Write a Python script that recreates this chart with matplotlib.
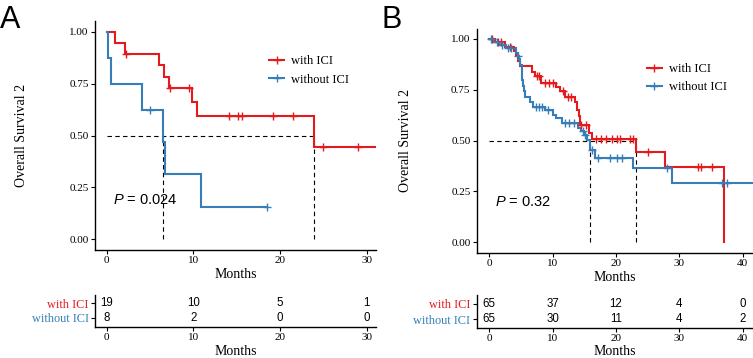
import numpy as np
import matplotlib
matplotlib.use('Agg')
import matplotlib.pyplot as plt
from matplotlib.lines import Line2D

plt.rcParams['font.family'] = 'Liberation Serif'
plt.rcParams['mathtext.fontset'] = 'custom'
plt.rcParams['mathtext.it'] = 'Liberation Sans:italic'
plt.rcParams['mathtext.rm'] = 'Liberation Sans'

RED = '#E41A1C'
BLUE = '#377EB8'
groups = ['with ICI', 'without ICI']

# ---------------- Panel A: individual times (months) ----------------
A_with_events = [0.96, 2.12, 6.07, 6.65, 7.23, 9.8, 10.4, 23.88]
A_with_censors = [2.25, 7.35, 9.54, 14.1, 15.2, 15.6, 19.15, 21.46, 24.9, 28.96, 31.6]
A_without_events = [0.12, 0.55, 4.04, 6.52, 6.73, 10.85]
A_without_censors = [5.0, 18.46]
A_risk_times = [0, 10, 20, 30]
A_risk_with = [19, 10, 5, 1]
A_risk_without = [8, 2, 0, 0]
A_pvalue = 'P = 0.024'

# ---------------- Panel B: step curve ----------------
B_with_times = [0.9, 2.5, 3.9, 4.2, 4.5, 4.8, 6.7, 7.2, 8.2, 10.6, 11.2, 12.0, 13.6,
                13.9, 14.1, 14.3, 15.7, 16.2, 23.2, 27.7, 37.05]
B_with_surv = [0.985, 0.962, 0.94, 0.915, 0.89, 0.867, 0.84, 0.818, 0.782, 0.762, 0.742,
               0.716, 0.69, 0.65, 0.62, 0.576, 0.54, 0.507, 0.446, 0.372, 0.0]
B_with_censors = [0.5, 1.4, 1.9, 3.2, 7.5, 7.9, 8.8, 9.4, 10.0, 11.6, 12.4, 12.9, 14.5,
                  15.2, 16.8, 17.7, 18.5, 19.3, 20.1, 20.6, 22.2, 22.7, 25.1, 33.0, 33.4, 35.1]
B_with_end = 37.05
B_without_times = [0.6, 1.6, 2.7, 4.2, 4.5, 4.7, 4.9, 5.1, 5.2, 5.35, 5.5, 5.65, 6.5, 6.9,
                   8.8, 10.0, 10.6, 11.4, 14.0, 14.5, 15.0, 15.4, 15.9, 16.7, 22.7, 28.8]
B_without_surv = [0.985, 0.97, 0.955, 0.93, 0.915, 0.90, 0.87, 0.84, 0.80, 0.77, 0.745,
                  0.716, 0.69, 0.667, 0.65, 0.625, 0.611, 0.586, 0.56, 0.545, 0.53, 0.503,
                  0.454, 0.416, 0.364, 0.29]
B_without_censors = [0.3, 1.2, 2.0, 3.0, 3.5, 4.6, 7.3, 7.8, 8.3, 9.3, 11.9, 12.6, 13.4,
                     14.8, 15.1, 16.2, 17.2, 19.05, 20.1, 20.9, 28.1, 36.7, 37.5]
B_without_end = 42.5
B_risk_times = [0, 10, 20, 30, 40]
B_risk_with = [65, 37, 12, 4, 0]
B_risk_without = [65, 30, 11, 4, 2]
B_pvalue = 'P = 0.32'


def km(events, censors):
    ev = np.asarray(events, float)
    ce = np.asarray(censors, float)
    T, S, s = [0.0], [1.0], 1.0
    for t in np.unique(ev):
        at_risk = np.sum(ev >= t) + np.sum(ce >= t)
        d = np.sum(ev == t)
        s *= 1 - d / at_risk
        T.append(t)
        S.append(s)
    end = max(ev.max(), ce.max() if len(ce) else 0)
    return np.array(T), np.array(S), ce, end


def stepcurve(times, surv, censors, end):
    return (np.array([0.0] + list(times)), np.array([1.0] + list(surv)),
            np.asarray(censors, float), end)


def s_at(T, S, t):
    return S[np.searchsorted(T, t, side='right') - 1]


fig = plt.figure(figsize=(7.53, 3.58), dpi=100)


def px_axes(l, t, r, b):
    return fig.add_axes([l / 753, 1 - b / 358, (r - l) / 753, (b - t) / 358])


def style(ax):
    for sp in ['top', 'right']:
        ax.spines[sp].set_visible(False)
    for sp in ['left', 'bottom']:
        ax.spines[sp].set_linewidth(1.0)
    ax.tick_params(length=3, width=0.8, labelsize=8, pad=1.5, colors='black')


def panel(main_box, risk_box, curves, xlim, xticks, ptext, pxy, leg_anchor,
          risk_times, risks, ylab_x, xlab_y, rxlab_y):
    ax = px_axes(*main_box)
    style(ax)
    colors = [RED, BLUE]
    medians = []
    for (T, S, ce, end), c in zip(curves, colors):
        ax.step(np.append(T, end), np.append(S, S[-1]), where='post', color=c, lw=1.5,
                solid_joinstyle='miter', zorder=3)
        ax.plot(ce, [s_at(T, S, t) for t in ce], ls='none', marker='+', ms=6, mew=1.0,
                color=c, zorder=4)
        below = np.where(S <= 0.5)[0]
        if len(below):
            medians.append(T[below[0]])
    ax.plot([0, max(medians)], [0.5, 0.5], ls=(0, (4, 3)), color='black', lw=0.8, zorder=2)
    for m in medians:
        ax.plot([m, m], [0, 0.5], ls=(0, (4, 3)), color='black', lw=0.8, zorder=2)
    ax.set_xlim(*xlim)
    ax.set_ylim(-0.05, 1.05)
    ax.set_xticks(xticks)
    ax.set_yticks([0, 0.25, 0.5, 0.75, 1.0])
    ax.set_yticklabels(['0.00', '0.25', '0.50', '0.75', '1.00'])
    ax.set_ylabel('Overall Survival 2', fontsize=10)
    ax.yaxis.set_label_coords(ylab_x, 0.5)
    ax.set_xlabel('Months', fontsize=10)
    ax.xaxis.set_label_coords(0.5, xlab_y)
    ax.text(pxy[0], pxy[1], '$P$' + ptext[1:], fontsize=10.5, family='Liberation Sans',
            ha='left', va='center')
    handles = [Line2D([], [], color=c, lw=1.5, marker='+', ms=6, mew=1.0) for c in colors]
    ax.legend(handles, groups, loc='center left', bbox_to_anchor=leg_anchor,
              bbox_transform=fig.transFigure, frameon=False, fontsize=9,
              handlelength=1.2, handletextpad=0.55, labelspacing=0.5,
              borderpad=0, borderaxespad=0)

    rx = px_axes(*risk_box)
    style(rx)
    rx.set_xlim(*xlim)
    rx.set_ylim(0.4, 2.6)
    rx.set_xticks(risk_times)
    rx.set_yticks([2, 1])
    rx.set_yticklabels(groups, fontsize=8.8)
    for lab, c in zip(rx.get_yticklabels(), colors):
        lab.set_color(c)
    for row, vals in zip([2, 1], risks):
        for t, v in zip(risk_times, vals):
            rx.text(t, row, str(v), ha='center', va='center', fontsize=8.3,
                    family='Liberation Sans')
    rx.set_xlabel('Months', fontsize=10)
    rx.xaxis.set_label_coords(0.5, rxlab_y)
    return ax


cA = [km(A_with_events, A_with_censors), km(A_without_events, A_without_censors)]
cB = [stepcurve(B_with_times, B_with_surv, B_with_censors, B_with_end),
      stepcurve(B_without_times, B_without_surv, B_without_censors, B_without_end)]

panel((95, 21.3, 376, 249.7), (95, 294.7, 376, 326.5), cA, (-1.35, 31.07),
      [0, 10, 20, 30], A_pvalue, (0.75, 0.19), (269 / 753, 1 - 70.5 / 358),
      A_risk_times, [A_risk_with, A_risk_without], -0.239, -0.080, -0.58)
panel((476.7, 28.8, 753, 252.5), (476.7, 295, 753, 328), cB, (-1.99, 41.63),
      [0, 10, 20, 30, 40], B_pvalue, (0.95, 0.197), (646.7 / 753, 1 - 78 / 358),
      B_risk_times, [B_risk_with, B_risk_without], -0.233, -0.083, -0.52)

fig.text(0.0, 1 - 28.3 / 358, 'A', fontsize=22, family='Liberation Sans', va='baseline')
fig.text(381 / 753, 1 - 27.5 / 358, 'B', fontsize=22, family='Liberation Sans',
         va='baseline')

fig.savefig('out.png', dpi=100)
